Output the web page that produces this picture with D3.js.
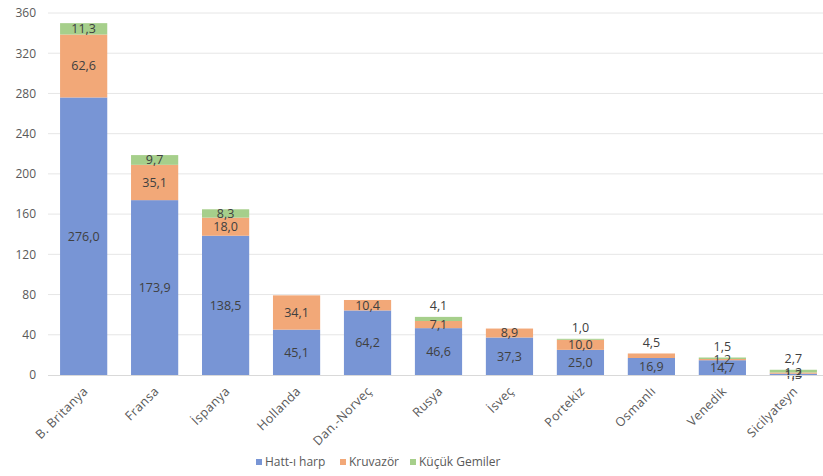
<!DOCTYPE html>
<html>
<head>
<meta charset="utf-8">
<script src="https://cdn.jsdelivr.net/npm/d3@7"></script>
<style>
  html, body { margin: 0; padding: 0; background: #fff; }
  svg { display: block; font-family: "Open Sans", "Noto Sans", sans-serif; }
</style>
</head>
<body>
<svg id="chart" width="823" height="476"></svg>
<script>
const categories = ["B. Britanya", "Fransa", "İspanya", "Hollanda", "Dan.-Norveç", "Rusya", "İsveç", "Portekiz", "Osmanlı", "Venedik", "Sicilyateyn"];
const seriesNames = ["Hatt-ı harp", "Kruvazör", "Küçük Gemiler"];
const hattiHarp = [276.0, 173.9, 138.5, 45.1, 64.2, 46.6, 37.3, 25.0, 16.9, 14.7, 1.3];
const kruvazor = [62.6, 35.1, 18.0, 34.1, 10.4, 7.1, 8.9, 10.0, 4.5, 1.2, 1.2];
const kucukGemiler = [11.3, 9.7, 8.3, 0, 0, 4.1, 0, 1.0, 0, 1.5, 2.7];
const yTicks = [0, 40, 80, 120, 160, 200, 240, 280, 320, 360];
const colors = ["#7895d5", "#f2a878", "#a6cf8b"];

const svg = d3.select("#chart");
const margin = { left: 48, right: -6, top: 13, bottom: 101 };
const W = 823, H = 476;

const x = d3.scaleBand().domain(categories).range([margin.left, W - margin.right]).paddingInner(0.335).paddingOuter(0.17);
const y = d3.scaleLinear().domain([0, 360]).range([H - margin.bottom, margin.top]);

const rows = categories.map((c, i) => ({ cat: c, s0: hattiHarp[i], s1: kruvazor[i], s2: kucukGemiler[i] }));
const stack = d3.stack().keys(["s0", "s1", "s2"]);
const layers = stack(rows);

// gridlines
svg.append("g").selectAll("line").data(yTicks.filter(t => t > 0)).join("line")
  .attr("x1", margin.left).attr("x2", W)
  .attr("y1", d => y(d)).attr("y2", d => y(d))
  .attr("stroke", "#e6e6e6").attr("stroke-width", 1);

// y axis labels
const yAxis = d3.axisLeft(y).tickValues(yTicks).tickSize(0).tickPadding(12);
const gy = svg.append("g").attr("transform", `translate(${margin.left},0)`).call(yAxis);
gy.select(".domain").remove();
gy.selectAll("text").attr("fill", "#595959").style("font-size", "12px").style("font-family", "'Open Sans', sans-serif");

// bars
const g = svg.append("g");
layers.forEach((layer, li) => {
  g.selectAll(null).data(layer).join("rect")
    .attr("x", d => x(d.data.cat))
    .attr("width", x.bandwidth())
    .attr("y", d => y(d[1]))
    .attr("height", d => Math.max(0, y(d[0]) - y(d[1])))
    .attr("fill", colors[li]);
});

// baseline
svg.append("line").attr("x1", margin.left).attr("x2", W)
  .attr("y1", y(0) + 0.5).attr("y2", y(0) + 0.5).attr("stroke", "#d9d9d9");

// x axis labels
const xAxis = d3.axisBottom(x).tickSize(0).tickPadding(0);
const gx = svg.append("g").attr("transform", `translate(0,${y(0)})`).call(xAxis);
gx.select(".domain").remove();
gx.selectAll("text")
  .attr("fill", "#595959").style("font-size", "12.5px").style("font-family", "'Open Sans', sans-serif")
  .style("letter-spacing", "0.4px")
  .attr("text-anchor", "end")
  .attr("y", 0)
  .attr("dy", null)
  .attr("transform", "translate(5,17) rotate(-45)");

// data labels
const fmt = v => v.toFixed(1).replace(".", ",");
layers.forEach((layer, li) => {
  layer.forEach((d, i) => {
    const v = d[1] - d[0];
    if (v <= 0) return;
    const isTop = layers.slice(li + 1).every(l => (l[i][1] - l[i][0]) <= 0);
    let cy = (y(d[0]) + y(d[1])) / 2;
    if (isTop && v < 6) cy = y(d[1]) - 11;
    g.append("text")
      .attr("x", x(d.data.cat) + x.bandwidth() / 2)
      .attr("y", cy)
      .attr("dy", "0.35em")
      .attr("text-anchor", "middle")
      .attr("fill", "#404040")
      .style("font-size", "12.5px")
      .text(fmt(v));
  });
});

// legend
const legend = svg.append("g").attr("transform", `translate(0,462)`);
const legendX = [256, 340, 410];
seriesNames.forEach((name, i) => {
  const lg = legend.append("g").attr("transform", `translate(${legendX[i]},0)`);
  lg.append("rect").attr("x", 0).attr("y", -3).attr("width", 6).attr("height", 6).attr("fill", colors[i]);
  lg.append("text").attr("x", 9).attr("y", 0).attr("dy", "0.35em")
    .attr("fill", "#595959").style("font-size", "12px").text(name);
});
</script>
</body>
</html>
